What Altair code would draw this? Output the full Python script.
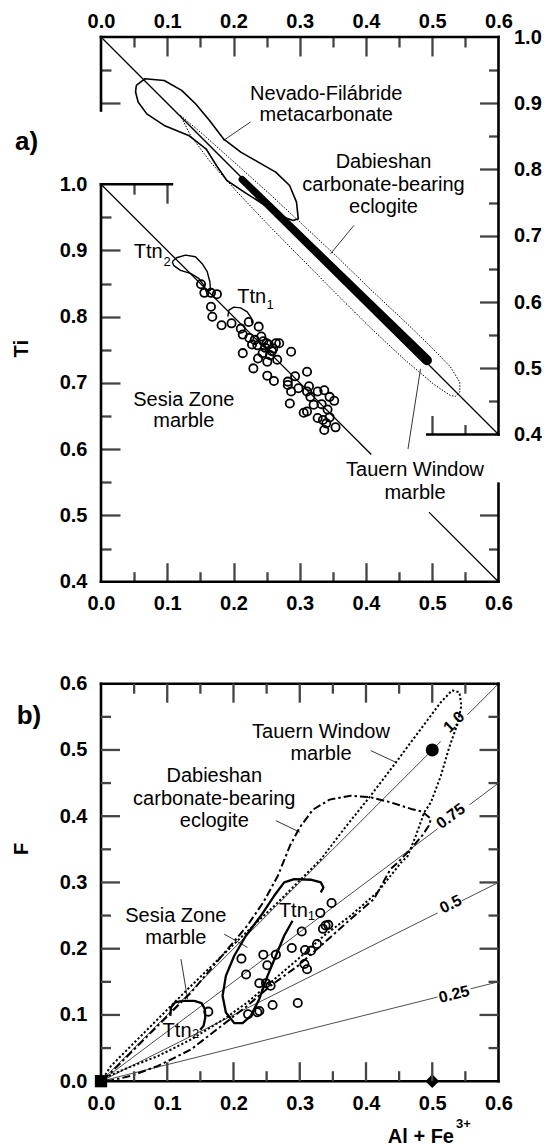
import altair as alt
import pandas as pd

FONT = "Liberation Sans"

# ---------------- values ----------------
X_LABELS = [0.0, 0.1, 0.2, 0.3, 0.4, 0.5, 0.6]
TI_LABELS = [0.4, 0.5, 0.6, 0.7, 0.8, 0.9, 1.0]
F_LABELS = [0.0, 0.1, 0.2, 0.3, 0.4, 0.5, 0.6]
MAJOR_X = [0.1, 0.2, 0.3, 0.4, 0.5]
MINOR_X = [0.05, 0.15, 0.25, 0.35, 0.45, 0.55]
MAJOR_TI = [0.5, 0.6, 0.7, 0.8, 0.9]
MINOR_TI = [0.45, 0.55, 0.65, 0.75, 0.85, 0.95]
MAJOR_F = [0.1, 0.2, 0.3, 0.4, 0.5]
MINOR_F = [0.05, 0.15, 0.25, 0.35, 0.45, 0.55]

FRAME_A_MAIN = [(0.0, 0.0, 0.4, 1.0), (0.0, 0.6, 0.4, 0.4), (0.0, 0.107, 1.0, 1.0), (0.6, 0.6, 0.4, 0.548)]
FRAME_A_INSET = [(0.0, 0.6, 1.0, 1.0), (0.6, 0.6, 0.4, 1.0), (0.0, 0.0, 0.889, 1.0), (0.4925, 0.6, 0.4, 0.4)]
FRAME_B = [(0.0, 0.0, 0.0, 0.6), (0.0, 0.6, 0.0, 0.0), (0.0, 0.6, 0.6, 0.6), (0.6, 0.6, 0.0, 0.6)]

DIAG_A_MAIN = [(0.0, 0.408, 1.0, 0.592), (0.495, 0.6, 0.505, 0.4)]
DIAG_A_INSET = [(0.0, 0.6, 1.0, 0.4)]

SESIA_A = [(0.151, 0.849), (0.156, 0.836), (0.166, 0.836), (0.175, 0.834), (0.166, 0.815),
           (0.168, 0.800), (0.182, 0.787), (0.197, 0.790), (0.211, 0.782), (0.223, 0.792),
           (0.238, 0.785), (0.214, 0.773), (0.224, 0.768), (0.232, 0.765), (0.242, 0.770),
           (0.245, 0.763), (0.253, 0.758), (0.264, 0.760), (0.269, 0.760), (0.248, 0.753),
           (0.258, 0.748), (0.237, 0.737), (0.251, 0.732), (0.266, 0.735), (0.287, 0.747),
           (0.214, 0.745), (0.230, 0.722), (0.251, 0.711), (0.261, 0.703), (0.282, 0.702),
           (0.293, 0.710), (0.311, 0.717), (0.287, 0.687), (0.298, 0.692), (0.311, 0.687),
           (0.316, 0.679), (0.327, 0.687), (0.337, 0.689), (0.345, 0.679), (0.352, 0.673),
           (0.306, 0.655), (0.311, 0.657), (0.327, 0.647), (0.335, 0.644), (0.340, 0.639),
           (0.337, 0.629), (0.354, 0.633), (0.285, 0.669), (0.282, 0.697), (0.321, 0.667),
           (0.314, 0.695), (0.244, 0.745), (0.255, 0.742), (0.260, 0.752), (0.236, 0.757),
           (0.250, 0.760), (0.228, 0.758), (0.342, 0.660), (0.345, 0.648), (0.333, 0.668)]
TTN2_A = [(0.1075, 0.883), (0.114, 0.889), (0.1275, 0.893), (0.1426, 0.8905), (0.1527, 0.880),
          (0.1603, 0.868), (0.1643, 0.8527), (0.1653, 0.840), (0.159, 0.8376), (0.155, 0.8476),
          (0.1476, 0.8577), (0.135, 0.8653), (0.12, 0.870), (0.110, 0.877), (0.1075, 0.883)]
TTN1_A = [(0.1915, 0.800), (0.193, 0.810), (0.2005, 0.8144), (0.2106, 0.8134), (0.2207, 0.8074),
          (0.2267, 0.7983), (0.2282, 0.7897)]

NEVADO_A = [(0.0533, 0.927), (0.0665, 0.937), (0.0954, 0.9344), (0.1217, 0.9194), (0.1427, 0.8993),
            (0.1638, 0.874), (0.1848, 0.8464), (0.211, 0.8263), (0.2373, 0.8112), (0.2637, 0.796),
            (0.2847, 0.7758), (0.2951, 0.7508), (0.2978, 0.7255), (0.29, 0.723), (0.2689, 0.7305),
            (0.2479, 0.7456), (0.2163, 0.7659), (0.19, 0.7834), (0.1742, 0.806), (0.1585, 0.8313),
            (0.1322, 0.8514), (0.0954, 0.8665), (0.0691, 0.884), (0.056, 0.9018), (0.0522, 0.9169),
            (0.0533, 0.927)]
TAUERN_A = [(0.1200, 0.8816), (0.1552, 0.8520), (0.2055, 0.8070), (0.2558, 0.7620), (0.3062, 0.7150),
            (0.3565, 0.6680), (0.4068, 0.6190), (0.4571, 0.5720), (0.4973, 0.5330), (0.5275, 0.5020),
            (0.5416, 0.4788), (0.5416, 0.4637), (0.5351, 0.4577), (0.5275, 0.4587), (0.5024, 0.4758),
            (0.4571, 0.5140), (0.4068, 0.5610), (0.3565, 0.6110), (0.3062, 0.6620), (0.2558, 0.7130),
            (0.2055, 0.7660), (0.1653, 0.8111), (0.1351, 0.8514), (0.1200, 0.8816)]
DABIE_BAND_A = [(0.213, 0.785, 7.0), (0.492, 0.512, 10.0)]
LEADERS_A_INSET = [(0.2257, 0.1849, 0.8717, 0.8438), (0.3816, 0.3464, 0.7154, 0.6727),
                   (0.4823, 0.4634, 0.4991, 0.3782)]

LABELS_A_INSET = [("Nevado-Filábride", 0.340, 0.9144), ("metacarbonate", 0.340, 0.8817),
                  ("Dabieshan", 0.4264, 0.8113), ("carbonate-bearing", 0.4264, 0.776),
                  ("eclogite", 0.4264, 0.7434)]
LABELS_A_MAIN = [("Tauern Window", 0.474, 0.5683), ("marble", 0.474, 0.5332),
                 ("Sesia Zone", 0.125, 0.6737), ("marble", 0.125, 0.642)]
TTN_A = [("Ttn", 0.0495, 0.898), ("Ttn", 0.2056, 0.8297)]
SUB_A = [("2", 0.0943, 0.8826), ("1", 0.2498, 0.817)]

SESIA_B = [(0.162, 0.105), (0.212, 0.185), (0.219, 0.161), (0.222, 0.101), (0.236, 0.104),
           (0.239, 0.106), (0.245, 0.191), (0.251, 0.175), (0.239, 0.148), (0.249, 0.148),
           (0.256, 0.144), (0.259, 0.115), (0.264, 0.191), (0.288, 0.201), (0.297, 0.118),
           (0.303, 0.226), (0.308, 0.198), (0.317, 0.197), (0.307, 0.177), (0.311, 0.169),
           (0.326, 0.207), (0.331, 0.254), (0.335, 0.230), (0.339, 0.235), (0.343, 0.236),
           (0.348, 0.269)]
TTN1_B = [(0.2891, 0.2422), (0.2765, 0.2195), (0.264, 0.1893), (0.2514, 0.159), (0.2388, 0.1238),
          (0.2262, 0.0986), (0.2137, 0.0876), (0.2011, 0.0876), (0.1885, 0.1037), (0.1835, 0.1289),
          (0.1885, 0.159), (0.2011, 0.1893), (0.2187, 0.2195), (0.2413, 0.2497), (0.2614, 0.2799),
          (0.2765, 0.3001), (0.2916, 0.3051), (0.3167, 0.3041), (0.3318, 0.3001), (0.3358, 0.2925),
          (0.3318, 0.285)]
TTN2_B = [(0.1046, 0.0986), (0.1056, 0.1112), (0.1116, 0.1188), (0.1232, 0.1213), (0.1408, 0.1213),
          (0.1518, 0.1178), (0.1569, 0.1087), (0.1574, 0.0961), (0.1549, 0.0836), (0.1498, 0.0775)]
TAUERN_B = [(0.003, 0.004), (0.015, 0.023), (0.060, 0.068), (0.131, 0.139), (0.206, 0.212),
            (0.267, 0.270), (0.332, 0.335), (0.367, 0.381), (0.407, 0.431), (0.445, 0.481),
            (0.483, 0.532), (0.513, 0.572), (0.530, 0.590), (0.541, 0.587), (0.544, 0.567),
            (0.538, 0.539), (0.525, 0.502), (0.513, 0.461), (0.498, 0.421), (0.488, 0.406),
            (0.475, 0.370), (0.463, 0.340), (0.453, 0.330), (0.417, 0.285), (0.377, 0.250),
            (0.337, 0.220), (0.297, 0.184), (0.256, 0.149), (0.221, 0.119), (0.186, 0.094),
            (0.136, 0.063), (0.086, 0.038), (0.035, 0.018), (0.003, 0.004)]
DABIE_B = [(0.003, 0.001), (0.015, 0.013), (0.055, 0.053), (0.136, 0.134), (0.221, 0.235),
           (0.245, 0.270), (0.267, 0.310), (0.285, 0.355), (0.300, 0.383), (0.320, 0.410),
           (0.345, 0.425), (0.377, 0.431), (0.407, 0.4285), (0.437, 0.421), (0.468, 0.411),
           (0.485, 0.407), (0.498, 0.396), (0.495, 0.386), (0.485, 0.371), (0.468, 0.351),
           (0.448, 0.330), (0.437, 0.320), (0.412, 0.275), (0.377, 0.245), (0.337, 0.209),
           (0.297, 0.174), (0.256, 0.144), (0.221, 0.114), (0.176, 0.079), (0.136, 0.048),
           (0.086, 0.023), (0.045, 0.008), (0.015, 0.001), (0.003, 0.001)]
RATIO_LINES = [(0.0, 0.513, 0.0, 0.513), (0.553, 0.6, 0.553, 0.6),
               (0.0, 0.508, 0.0, 0.381), (0.556, 0.6, 0.417, 0.45),
               (0.0, 0.508, 0.0, 0.254), (0.545, 0.6, 0.2725, 0.3),
               (0.0, 0.508, 0.0, 0.127), (0.558, 0.6, 0.1395, 0.15)]
RATIO_LABELS = [("1.0", 0.533, 0.542, 315.0), ("0.75", 0.528, 0.400, 323.13),
                ("0.5", 0.528, 0.267, 333.43), ("0.25", 0.533, 0.131, 345.96)]
LEADERS_B = [(0.4072, 0.445, 0.499, 0.4814), (0.264, 0.3006, 0.3932, 0.3757),
             (0.186, 0.2212, 0.222, 0.2019), (0.1207, 0.1307, 0.1843, 0.1239)]
END_CIRCLE_B = [(0.5, 0.5)]
END_SQUARE_B = [(0.0, 0.0)]
END_DIAMOND_B = [(0.5, 0.0)]
LABELS_B = [("Tauern Window", 0.332, 0.527), ("marble", 0.332, 0.494),
            ("Dabieshan", 0.171, 0.461), ("carbonate-bearing", 0.171, 0.426), ("eclogite", 0.171, 0.393),
            ("Sesia Zone", 0.113, 0.2497), ("marble", 0.113, 0.2156)]
TTN_B = [("Ttn", 0.2685, 0.2573), ("Ttn", 0.093, 0.076)]
SUB_B = [("1", 0.3122, 0.2497), ("2", 0.1373, 0.071)]

# ---------------- layout / style ----------------
PPU = 662.5
OFFSET = 147.2
W = 0.6 * PPU
HA = 0.6 * PPU + OFFSET
HB = 0.6 * PPU
DOM = {"main": [0.4, 0.4 + HA / PPU], "inset": [1.0 - HA / PPU, 1.0], "b": [0.0, 0.6]}
FRAME_W = 2.6
TICK_W = 2.3
MAJ, MIN = 19, 10
TICK_COLOR = "#444444"


def xenc(axis=None):
    return alt.X("x:Q", scale=alt.Scale(domain=[0.0, 0.6], nice=False, zero=False), axis=axis)


def yenc(kind, axis=None):
    return alt.Y("y:Q", scale=alt.Scale(domain=DOM[kind], nice=False, zero=False), axis=axis)


def label_axis(orient, values, pad):
    return alt.Axis(orient=orient, values=values, format=".1f", title=None, domain=False,
                    ticks=False, grid=False, labelFont=FONT, labelFontSize=20,
                    labelFontWeight="bold", labelColor="black", labelPadding=pad,
                    labelFlush=False, labelOverlap=False, labelBound=False)


def tick_axis(orient, values, size, shift=0.0):
    return alt.Axis(orient=orient, values=values, title=None, domain=False, grid=False,
                    labels=False, ticks=True, tickSize=size, tickWidth=TICK_W,
                    tickColor=TICK_COLOR, tickOpacity=1, offset=-(size + shift))


def carrier(kind, xaxis=None, yaxis=None):
    df = pd.DataFrame({"x": [0.3], "y": [DOM[kind][1]]})
    return alt.Chart(df).mark_point(opacity=0).encode(x=xenc(xaxis), y=yenc(kind, yaxis))


def segments(rows, kind, width=1.0, dash=None, cap="butt", color="black"):
    recs = []
    for g, (x1, x2, y1, y2) in enumerate(rows):
        recs.append({"g": g, "i": 0, "x": x1, "y": y1})
        recs.append({"g": g, "i": 1, "x": x2, "y": y2})
    df = pd.DataFrame(recs)
    mk = dict(color=color, strokeWidth=width, strokeCap=cap)
    if dash:
        mk["strokeDash"] = dash
    return alt.Chart(df).mark_line(**mk).encode(
        x=xenc(), y=yenc(kind), detail="g:N", order="i:Q")


def hticks(vals, edge, length, sign):
    return [(v, v, edge, edge + sign * length / PPU) for v in vals]


def vticks(vals, edge, length, sign):
    return [(edge, edge + sign * length / PPU, v, v) for v in vals]


def path(pts, kind, width, dash=None):
    df = pd.DataFrame([{"i": i, "x": x, "y": y} for i, (x, y) in enumerate(pts)])
    mk = dict(color="black", strokeWidth=width, strokeJoin="round")
    if dash:
        mk["strokeDash"] = dash
    return alt.Chart(df).mark_line(**mk).encode(x=xenc(), y=yenc(kind), order="i:Q")


def points(pts, kind, shape, size, filled, sw=1.8):
    df = pd.DataFrame(pts, columns=["x", "y"])
    return alt.Chart(df).mark_point(shape=shape, size=size, filled=filled, color="black",
                                    strokeWidth=sw, opacity=1).encode(x=xenc(), y=yenc(kind))


def texts(rows, kind, size=20, weight="normal", align="center"):
    df = pd.DataFrame(rows, columns=["t", "x", "y"])
    return alt.Chart(df).mark_text(font=FONT, fontSize=size, fontWeight=weight, align=align,
                                   baseline="middle", color="black").encode(
        x=xenc(), y=yenc(kind), text="t:N")


def ptext(t, px, py, size, weight="bold", angle=0, align="center"):
    df = pd.DataFrame({"t": [t]})
    return alt.Chart(df).mark_text(font=FONT, fontSize=size, fontWeight=weight, align=align,
                                   baseline="middle", angle=angle, color="black").encode(
        text="t:N", x=alt.value(px), y=alt.value(py))


band_df = pd.DataFrame([{"i": i, "x": x, "y": y, "w": w} for i, (x, y, w) in enumerate(DABIE_BAND_A)])
band = alt.Chart(band_df).mark_trail(color="black").encode(
    x=xenc(), y=yenc("inset"), size=alt.Size("w:Q", scale=None, legend=None), order="i:Q")

ticks_b = (hticks(MAJOR_X, 0.0, MAJ, 1) + hticks(MINOR_X, 0.0, MIN, 1)
           + hticks(MAJOR_X, 0.6, MAJ, -1) + hticks(MINOR_X, 0.6, MIN, -1)
           + vticks(MAJOR_F, 0.0, MAJ, 1) + vticks(MINOR_F, 0.0, MIN, 1)
           + vticks(MAJOR_F, 0.6, MAJ, -1) + vticks(MINOR_F, 0.6, MIN, -1))

layers_a = [
    carrier("main", label_axis("bottom", X_LABELS, 12), label_axis("left", TI_LABELS, 14)),
    carrier("inset", label_axis("top", X_LABELS, 6), label_axis("right", TI_LABELS, 15)),
    carrier("main", tick_axis("bottom", MAJOR_X, MAJ), tick_axis("left", MAJOR_TI, MAJ)),
    carrier("main", tick_axis("bottom", MINOR_X, MIN), tick_axis("left", MINOR_TI, MIN)),
    carrier("main", tick_axis("top", [0.1], MAJ, OFFSET), tick_axis("right", [0.5], MAJ)),
    carrier("main", tick_axis("top", [0.05], MIN, OFFSET), tick_axis("right", [0.45], MIN)),
    carrier("inset", tick_axis("top", MAJOR_X, MAJ), tick_axis("right", MAJOR_TI, MAJ)),
    carrier("inset", tick_axis("top", MINOR_X, MIN), tick_axis("right", MINOR_TI, MIN)),
    carrier("inset", tick_axis("bottom", [0.5], MAJ, OFFSET), tick_axis("left", [0.9], MAJ)),
    carrier("inset", tick_axis("bottom", [0.55], MIN, OFFSET), tick_axis("left", [0.95], MIN)),
    segments(FRAME_A_MAIN, "main", FRAME_W, cap="square"),
    segments(FRAME_A_INSET, "inset", FRAME_W, cap="square"),
    segments(DIAG_A_MAIN, "main", 1.3),
    segments(DIAG_A_INSET, "inset", 1.3),
    segments(LEADERS_A_INSET, "inset", 0.8),
    path(NEVADO_A, "inset", 1.6),
    path(TAUERN_A, "inset", 1.0, dash=[1.5, 1.5]),
    band,
    path(TTN2_A, "main", 1.4),
    path(TTN1_A, "main", 1.4),
    points(SESIA_A, "main", "circle", 68, False, 1.8),
    texts(LABELS_A_INSET, "inset"),
    texts(LABELS_A_MAIN, "main"),
    texts(TTN_A, "main", 20, align="left"),
    texts(SUB_A, "main", 13, align="left"),
    ptext("a)", -74.5, 105, 26),
    ptext("Ti", -79.5, 311.7, 20, angle=270),
]
panel_a = alt.layer(*layers_a).resolve_scale(x="independent", y="independent").properties(
    width=W, height=HA)

ratio_df = pd.DataFrame(RATIO_LABELS, columns=["t", "x", "y", "a"])
ratio_txt = alt.Chart(ratio_df).mark_text(font=FONT, fontSize=16, fontWeight="bold",
                                          baseline="middle", align="center", color="black").encode(
    x=xenc(), y=yenc("b"), text="t:N", angle=alt.Angle("a:Q", scale=None))

layers_b = [
    carrier("b", label_axis("bottom", X_LABELS, 12), label_axis("left", F_LABELS, 14)),
    segments(RATIO_LINES, "b", 0.7),
    segments(LEADERS_B, "b", 0.8),
    path(TAUERN_B, "b", 2.0, dash=[2.2, 2.2]),
    path(DABIE_B, "b", 2.0, dash=[8, 3, 2.5, 3]),
    path(TTN1_B, "b", 2.3),
    path(TTN2_B, "b", 2.3),
    points(SESIA_B, "b", "circle", 68, False, 1.8),
    points(END_CIRCLE_B, "b", "circle", 170, True, 1),
    points(END_SQUARE_B, "b", "square", 150, True, 1),
    points(END_DIAMOND_B, "b", "diamond", 190, True, 1),
    ratio_txt,
    texts(LABELS_B, "b"),
    texts(TTN_B, "b", 20, align="left"),
    texts(SUB_B, "b", 13, align="left"),
    segments(FRAME_B, "b", FRAME_W, cap="square"),
    segments(ticks_b, "b", TICK_W, color=TICK_COLOR),
    ptext("b)", -72, 32, 26),
    ptext("F", -79.5, 165.3, 20, angle=270),
    ptext("Al + Fe", 353, 453.6, 20, align="right"),
    ptext("3+", 355, 440.3, 13, align="left"),
]
panel_b = alt.layer(*layers_b).resolve_scale(x="independent", y="independent").properties(
    width=W, height=HB)

chart = alt.vconcat(panel_a, panel_b, spacing=101.7, bounds="flush").properties(
    padding={"left": 11, "top": 11, "right": 0, "bottom": 0}
).configure_view(stroke=None)

chart.save("out.html", embed_options={"renderer": "svg", "actions": False})
